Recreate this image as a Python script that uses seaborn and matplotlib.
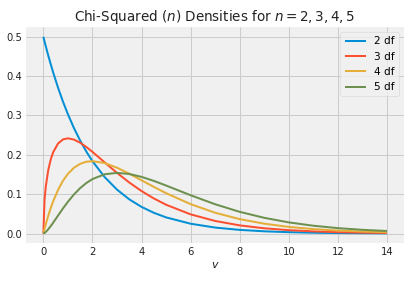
import matplotlib
matplotlib.use("Agg")
import matplotlib.pyplot as plt
import seaborn as sns
import pandas as pd

x_vals = [0, 0.05, 0.1, 0.2, 0.3, 0.4, 0.6, 0.8, 1.0, 1.25, 1.5, 1.75, 2, 2.5, 3, 3.5,
          4, 4.5, 5, 6, 7, 8, 9, 10, 11, 12, 13, 14]
df2 = [0.5, 0.4877, 0.4756, 0.4524, 0.4304, 0.4094, 0.3704, 0.3352, 0.3033, 0.2676, 0.2362,
       0.2084, 0.1839, 0.1433, 0.1116, 0.0869, 0.0677, 0.0527, 0.0410, 0.0249, 0.0151,
       0.0092, 0.0056, 0.0034, 0.0020, 0.0012, 0.0008, 0.0005]
df3 = [0.0, 0.0870, 0.1200, 0.1614, 0.1881, 0.2066, 0.2289, 0.2392, 0.2420, 0.2387, 0.2308,
       0.2200, 0.2076, 0.1807, 0.1542, 0.1297, 0.1080, 0.0892, 0.0732, 0.0487, 0.0319,
       0.0207, 0.0133, 0.0085, 0.0054, 0.0034, 0.0022, 0.0014]
df4 = [0.0, 0.0122, 0.0238, 0.0452, 0.0646, 0.0819, 0.1111, 0.1341, 0.1516, 0.1673, 0.1771,
       0.1824, 0.1839, 0.1791, 0.1673, 0.1521, 0.1353, 0.1186, 0.1026, 0.0747, 0.0528,
       0.0366, 0.0250, 0.0168, 0.0112, 0.0074, 0.0049, 0.0032]
df5 = [0.0, 0.0015, 0.0040, 0.0108, 0.0188, 0.0275, 0.0458, 0.0638, 0.0807, 0.0995, 0.1154,
       0.1283, 0.1384, 0.1506, 0.1542, 0.1513, 0.1440, 0.1338, 0.1220, 0.0973, 0.0744,
       0.0551, 0.0399, 0.0283, 0.0198, 0.0137, 0.0094, 0.0064]
labels = ["2 df", "3 df", "4 df", "5 df"]
colors = ["#008fd5", "#fc4f30", "#e5ae38", "#6d904f"]

rows = []
for lab, ys in zip(labels, [df2, df3, df4, df5]):
    for xv, yv in zip(x_vals, ys):
        rows.append({"v": xv, "density": yv, "series": lab})
data = pd.DataFrame(rows)

plt.style.use("fivethirtyeight")
plt.rcParams["font.family"] = ["DejaVu Sans"]

fig, ax = plt.subplots(figsize=(409 / 72, 281 / 72), dpi=72)
fig.patch.set_facecolor("white")
ax.set_facecolor("#f0f0f0")

sns.lineplot(data=data, x="v", y="density", hue="series", hue_order=labels,
             palette=colors, linewidth=2, ax=ax, sort=False)

ax.grid(True, color="#cbcbcb", linewidth=1)
for s in ax.spines.values():
    s.set_visible(False)
ax.set_xticks([0, 2, 4, 6, 8, 10, 12, 14])
ax.set_yticks([0.0, 0.1, 0.2, 0.3, 0.4, 0.5])
ax.tick_params(labelsize=10, colors="#222222", length=0, pad=4)
ax.set_xlabel("$v$", fontsize=11, color="#222222", labelpad=3)
ax.set_ylabel("")
ax.set_title("Chi-Squared $(n)$ Densities for $n = 2, 3, 4, 5$", fontsize=13.5, color="#222222")
leg = ax.legend(loc="upper right", fontsize=10.5, frameon=True)
leg.get_frame().set_facecolor("#f0f0f0")
leg.get_frame().set_edgecolor("#cccccc")

fig.subplots_adjust(left=0.064, right=0.988, top=0.904, bottom=0.134)
fig.savefig("out.png", dpi=72, facecolor="white")
